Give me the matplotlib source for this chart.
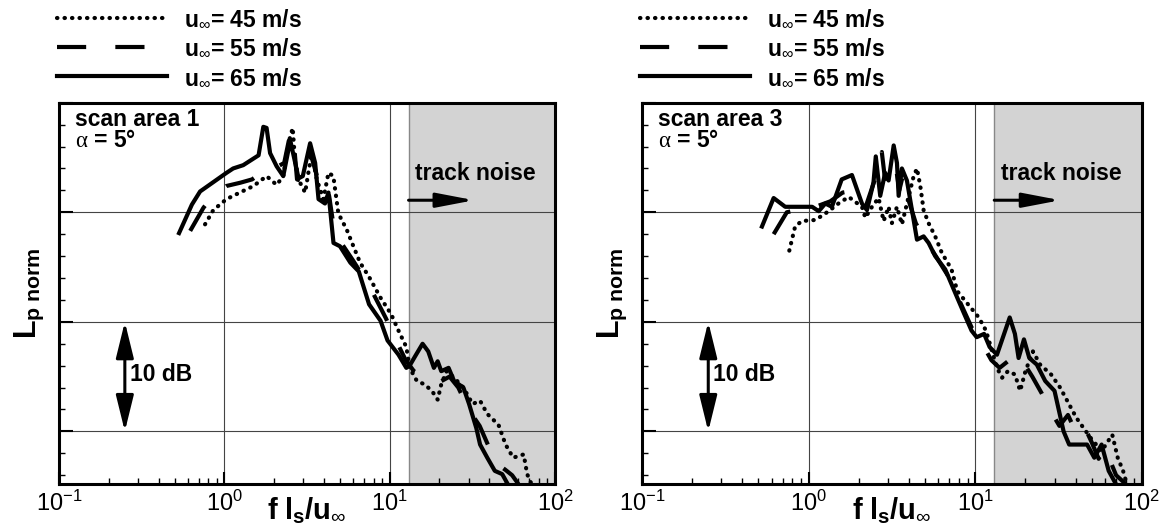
import matplotlib
matplotlib.use("Agg")
import matplotlib.pyplot as plt
from matplotlib.ticker import MultipleLocator, LogLocator, NullFormatter

plt.rcParams['font.family'] = ['Liberation Sans', 'DejaVu Sans']
plt.rcParams['mathtext.fontset'] = 'custom'
plt.rcParams['mathtext.rm'] = 'Liberation Sans'
plt.rcParams['mathtext.bf'] = 'Liberation Sans:bold'
plt.rcParams['mathtext.it'] = 'Liberation Serif'

# scan area 1
a1_x45 = [0.764, 0.857, 1.03, 1.24, 1.50, 1.80, 2.07, 2.27, 2.44, 2.59, 2.68, 2.87, 3.08, 3.22, 3.38,
          3.62, 3.97, 4.26, 4.56, 4.89, 5.50, 6.03, 6.62, 7.5, 8.8, 10.2, 11.3, 12.6, 13.2, 14.6,
          16.2, 18.0, 19.5, 20.5, 22.1, 24.5, 27.9, 31.7, 35.2, 38.9, 45.5, 50.2, 55.8, 64.6, 67.8, 72]
a1_y45 = [18.9, 20.2, 21.2, 21.8, 22.4, 23.3, 22.5, 23.3, 26.3, 27.7, 24.5, 22.7, 21.8, 23.6, 25.4,
          23.0, 21.2, 23.6, 23.3, 19.9, 18.4, 16.9, 15.4, 14.1, 12.2, 10.7, 9.2, 7.7, 5.8, 4.6,
          4.3, 3.7, 2.9, 4.3, 5.5, 4.9, 4.0, 2.5, 2.8, 1.6, 0.6, -1.2, -2.4, -2.1, -3.9, -4.8]
a1_x55 = [0.621, 0.746, 0.86, 1.03, 1.25, 1.47, 1.75, 2.0, 2.3, 2.45, 2.6, 2.75, 3.0, 3.3, 3.6, 3.9,
          4.3, 4.6, 5.2, 6.0, 7.0, 8.0, 9.5, 11, 12.5, 14, 16, 18, 20, 23, 26, 30, 35, 40, 45, 50, 55, 60]
a1_y55 = [18.3, 20.4, 21.6, 22.4, 22.7, 23.0, 23.8, 24.0, 24.5, 26.5, 27.3, 23.0, 22.8, 25.5, 23.5, 21.0,
          21.5, 18.5, 17.0, 15.6, 14.0, 12.5, 10.3, 8.2, 6.5, 5.5, 5.0, 4.8, 4.5, 5.0, 4.0, 2.0, 0.5,
          -1.5, -3.0, -3.5, -4.0, -4.8]
a1_x65 = [0.532, 0.636, 0.713, 1.03, 1.13, 1.30, 1.61, 1.72, 1.80, 1.89, 2.07, 2.27, 2.44, 2.50, 2.81,
          2.98, 3.30, 3.54, 3.71, 4.06, 4.26, 4.57, 5.0, 5.78, 6.5, 7.5, 8.8, 9.7, 11.3, 12.6, 13.2,
          14.3, 15.8, 17.1, 18.5, 19.5, 20.5, 22.7, 24.5, 27.9, 30.2, 33.4, 35.2, 38.9, 43.2, 47.9, 51.7]
a1_y65 = [18.1, 20.7, 21.9, 23.6, 24.0, 24.3, 25.2, 27.8, 27.7, 25.4, 24.2, 23.3, 25.7, 26.6, 23.1,
          23.3, 26.3, 24.5, 21.2, 20.8, 21.8, 17.2, 16.9, 15.4, 14.6, 11.6, 10.1, 8.3, 7.0, 5.8, 6.0,
          6.9, 8.0, 7.3, 5.8, 6.4, 5.5, 5.8, 4.6, 4.0, 2.5, 0.3, -1.2, -2.4, -3.6, -3.9, -4.8]

# scan area 3
a3_x45 = [0.766, 0.83, 0.91, 1.10, 1.32, 1.51, 1.74, 2.09, 2.19, 2.40, 2.63, 2.82, 3.02, 3.16, 3.39,
          3.63, 3.98, 4.27, 4.47, 4.68, 4.90, 5.25, 5.75, 6.3, 7.2, 7.8, 9.05, 10.5, 11.6, 12.8, 13.5,
          14.5, 15.7, 17.3, 18.6, 20.0, 22.2, 24.5, 28.5, 32.3, 36.5, 40.4, 44.7, 49.3, 57.3, 66.4,
          71.6, 77.1, 81.1]
a3_y45 = [16.5, 18.7, 19.2, 19.3, 20.1, 20.8, 21.4, 20.5, 19.5, 20.5, 21.3, 19.2, 20.5, 19.0, 20.5,
          18.9, 21.4, 23.3, 24.0, 22.4, 20.2, 19.0, 17.8, 16.3, 14.8, 12.8, 11.6, 10.4, 9.2, 7.0, 5.8,
          4.9, 5.5, 5.2, 3.7, 5.5, 7.3, 6.1, 5.2, 4.0, 2.5, 1.25, 0.3, -0.6, -1.8, -0.3,
          -2.4, -3.6, -4.8]
a3_x55 = [0.617, 0.74, 0.9, 1.1, 1.35, 1.6, 1.9, 2.2, 2.5, 2.75, 2.9, 3.1, 3.35, 3.5, 3.7, 4.0, 4.4,
          5.0, 5.8, 6.8, 8.0, 9.5, 11, 12.5, 14, 16, 18, 20, 22, 25, 28, 32, 36, 40, 45, 50, 55, 60, 70, 80]
a3_y55 = [18.0, 20.0, 20.3, 20.5, 21.0, 21.8, 22.0, 20.5, 23.0, 25.5, 22.5, 23.5, 24.0, 22.0, 23.5,
          21.0, 19.0, 17.5, 16.0, 14.3, 12.0, 9.5, 8.0, 6.5, 5.8, 6.5, 5.5, 6.0, 5.0, 3.5, 2.0, 0.5,
          1.5, 0.0, 0.5, -1.0, -2.5, -1.5, -4.0, -4.8]
a3_x65 = [0.525, 0.617, 0.724, 0.871, 1.05, 1.15, 1.26, 1.38, 1.58, 1.82, 2.09, 2.24, 2.45, 2.53, 2.69,
          2.88, 3.02, 3.24, 3.39, 3.47, 3.63, 3.89, 4.17, 4.47, 4.90, 5.25, 5.75, 6.6, 7.8, 8.6, 9.5,
          10.2, 11.3, 12.2, 13.5, 14.9, 16.1, 17.3, 18.2, 19.6, 21.1, 23.4, 26.3, 29.9, 33.9, 36.6,
          40.4, 46.9, 51.8, 57.3, 63.2, 69.8]
a3_y65 = [18.7, 21.3, 20.5, 20.5, 20.5, 20.1, 20.8, 20.5, 23.0, 23.4, 20.8, 20.2, 22.7, 25.1, 21.5,
          23.6, 22.9, 26.1, 24.5, 21.5, 24.0, 22.9, 20.2, 17.5, 17.8, 17.2, 16.0, 14.8, 12.2, 10.7, 9.2,
          8.6, 8.9, 7.7, 7.0, 8.9, 10.4, 8.9, 6.7, 8.4, 6.7, 6.1, 4.6, 3.7, 0.0, -1.2,
          -1.2, -1.2, -2.4, -1.2, -3.6, -4.8]

labels = [r"$\mathbf{u}_{\infty}$= 45 m/s", r"$\mathbf{u}_{\infty}$= 55 m/s", r"$\mathbf{u}_{\infty}$= 65 m/s"]
track_start = 13.0

fig = plt.figure(figsize=(11.6, 5.27), dpi=100)
ax1 = fig.add_axes([0.0509, 0.0816, 0.4276, 0.7235])
ax2 = fig.add_axes([0.5534, 0.0816, 0.4310, 0.7235])


def panel(ax, title, x45, y45, x55, y55, x65, y65):
    ax.set_xscale('log')
    ax.set_xlim(0.1, 100)
    ax.set_ylim(-4.8, 30)
    ax.set_axisbelow(True)
    ax.axvspan(track_start, 100, facecolor='#d3d3d3', edgecolor='#888888', lw=1, zorder=0.2)
    ax.grid(which='major', color='#444444', lw=0.8)

    l45, = ax.plot(x45, y45, color='k', lw=3, ls=(0, (0.1, 1.7)), dash_capstyle='round', label=labels[0])
    l55, = ax.plot(x55, y55, color='k', lw=3, ls=(0, (7, 7)), label=labels[1])
    l65, = ax.plot(x65, y65, color='k', lw=3, label=labels[2])

    ax.xaxis.set_major_locator(LogLocator(base=10, numticks=10))
    ax.xaxis.set_minor_locator(LogLocator(base=10, subs=range(2, 10), numticks=20))
    ax.xaxis.set_minor_formatter(NullFormatter())
    ax.yaxis.set_major_locator(MultipleLocator(10))
    ax.yaxis.set_minor_locator(MultipleLocator(2))
    ax.tick_params(axis='x', which='major', direction='in', length=9, width=1.5, labelsize=17, pad=5)
    ax.tick_params(axis='x', which='minor', direction='in', length=4, width=1)
    ax.tick_params(axis='y', which='major', direction='in', length=10, width=1.5, labelleft=False)
    ax.tick_params(axis='y', which='minor', direction='in', length=4, width=1)
    for s in ax.spines.values():
        s.set_linewidth(2.2)

    ax.text(0.032, 0.94, title, transform=ax.transAxes, fontsize=16.5, fontweight='bold')
    ax.text(0.032, 0.885, r"$\alpha$ = 5°", transform=ax.transAxes, fontsize=16.5, fontweight='bold')

    ax.text(14.3, 23.5, "track noise", fontsize=16.5, fontweight='bold', va='center')
    ax.annotate('', xy=(32.4, 21.1), xytext=(track_start, 21.1),
                arrowprops=dict(arrowstyle='-|>,head_length=1.15,head_width=0.22', lw=2.2,
                                color='k', mutation_scale=20, shrinkA=0, shrinkB=0))
    ax.annotate('', xy=(0.25, 10), xytext=(0.25, 0),
                arrowprops=dict(arrowstyle='<|-|>,head_length=1.1,head_width=0.27', lw=2.2,
                                color='k', mutation_scale=20, shrinkA=0, shrinkB=0))
    ax.text(0.268, 5.2, "10 dB", fontsize=16.5, fontweight='bold', va='center')

    ax.text(0.5, -0.092, r"$\mathbf{f\ l_s/u}_{\infty}$", transform=ax.transAxes,
            fontsize=21, ha='center', va='baseline')
    ax.set_ylabel(r"$\mathbf{L}_{\mathbf{p\ norm}}$", fontsize=22)
    ax.yaxis.set_label_coords(-0.026, 0.5)

    ax.legend(handles=[l45, l55, l65], loc='lower left', bbox_to_anchor=(-0.004, 1.035),
              frameon=False, borderpad=0, borderaxespad=0, handlelength=4.8, handletextpad=0.75,
              labelspacing=0.28, prop={'weight': 'bold', 'size': 16.5})


panel(ax1, "scan area 1", a1_x45, a1_y45, a1_x55, a1_y55, a1_x65, a1_y65)
panel(ax2, "scan area 3", a3_x45, a3_y45, a3_x55, a3_y55, a3_x65, a3_y65)

fig.savefig("out.png", dpi=100)
